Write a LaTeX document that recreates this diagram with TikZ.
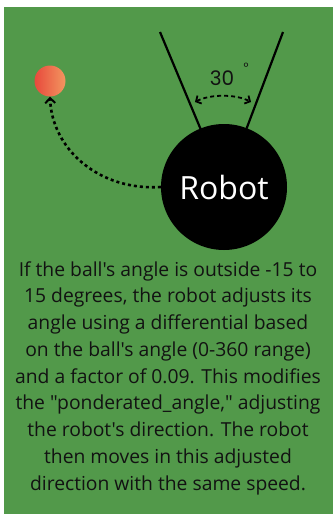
\documentclass[tikz,border=0pt]{standalone}
\usepackage{fontspec}
\newfontfamily\osans[Ligatures=TeXOff]{Open Sans}
\newfontfamily\pop{Poppins}
\usetikzlibrary{arrows.meta}
\definecolor{fieldgreen}{RGB}{82,153,74}
\definecolor{ballred}{RGB}{232,74,60}
\definecolor{ballorange}{RGB}{242,150,96}
\definecolor{txtdark}{RGB}{18,18,18}
\tikzset{
  robotbox/.style={circle, fill=black, minimum size=126pt, inner sep=0pt, text=white, font=\osans\fontsize{32}{36}\selectfont},
  ballbox/.style={circle, minimum size=31pt, inner sep=0pt, left color=ballred, right color=ballorange},
  conelinestyle/.style={line width=2.2pt, black},
  pathdots/.style={line width=2.6pt, dash pattern=on 3pt off 3pt, -{Straight Barb[length=5pt,width=10pt,line width=2pt]}},
  anglearrow/.style={line width=1.8pt, dash pattern=on 4pt off 3pt, {Straight Barb[length=4pt,width=9pt,line width=1.8pt]}-{Straight Barb[length=4pt,width=9pt,line width=1.8pt]}},
  desc/.style={align=center, text=txtdark, font=\osans\fontsize{19.3}{26.75}\selectfont, inner sep=0pt}
}
\begin{document}
\begin{tikzpicture}[x=1pt,y=-1pt]
\useasboundingbox (0,0) rectangle (336,514);
\fill[white] (0,0) rectangle (336,514);
\fill[fieldgreen] (4,7) rectangle (333,514);
% cone
\coordinate (ltop) at (160,32);
\coordinate (lbot) at (201,130);
\coordinate (rtop) at (283,32);
\coordinate (rbot) at (246,130);
\draw[conelinestyle] (ltop) -- (lbot);
\draw[conelinestyle] (rtop) -- (rbot);
% robot
\node[robotbox] (robot) at (224,187) {Robot};
% ball
\node[ballbox] (ball) at (50,81) {};
% angle
\node[text=txtdark, font=\pop\fontsize{20}{24}\selectfont, inner sep=0pt] (thirty) at (222,78) {30};
\node[text=txtdark, font=\pop\fontsize{12}{14}\selectfont, inner sep=0pt] (deg) at (246,67) {°};
\coordinate (aL) at (195,102);
\coordinate (aR) at (251,102);
\draw[anglearrow] (aL) .. controls (210,94) and (236,94) .. (aR);
% path to ball
\draw[pathdots] (robot.west) .. controls (100,191) and (52,150) .. (ball.south);
% description
\node[desc] (text) at (168,378) {If the ball's angle is outside -15 to\\
15 degrees, the robot adjusts its\\
angle using a differential based\\
on the ball's angle (0-360 range)\\
and a factor of 0.09. This modifies\\
the "ponderated\_angle," adjusting\\
the robot's direction. The robot\\
then moves in this adjusted\\
direction with the same speed.};
\end{tikzpicture}
\end{document}
